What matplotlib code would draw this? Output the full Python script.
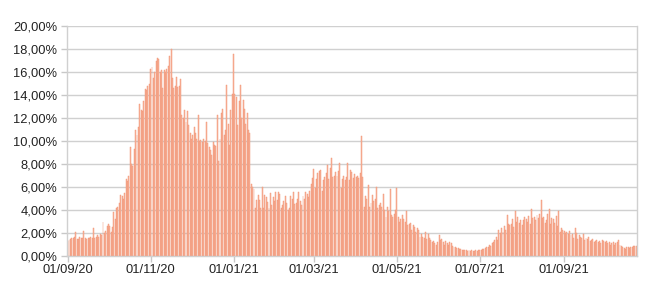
import matplotlib
matplotlib.use("Agg")
import matplotlib.pyplot as plt
import matplotlib.dates as mdates
from matplotlib.ticker import FuncFormatter
import pandas as pd

# daily positivity rate (%), month by month
sep20 = [1.3, 1.4, 1.5, 1.6, 1.6, 1.7, 2.1, 1.5, 1.5, 1.7, 1.6, 1.6, 2.2, 1.6, 1.5,
         1.6, 1.6, 1.7, 1.6, 2.4, 1.6, 1.7, 1.8, 1.7, 1.9, 1.8, 3.0, 2.0, 2.2, 2.6]
oct20 = [2.8, 2.6, 2.1, 2.5, 3.8, 3.2, 4.2, 4.3, 4.6, 5.3, 5.2, 5.0, 5.5, 6.7, 6.5,
         7.0, 9.5, 8.0, 7.8, 9.3, 11.0, 10.5, 11.2, 13.2, 12.7, 12.6, 13.5, 14.5, 14.4, 14.8, 15.0]
nov20 = [16.3, 16.4, 15.5, 16.0, 17.0, 17.2, 17.1, 16.0, 16.2, 14.6, 16.2, 16.0, 16.3, 16.5, 17.4,
         18.0, 15.5, 14.6, 14.8, 15.6, 14.7, 14.8, 15.4, 12.3, 12.0, 12.7, 11.7, 12.6, 11.4, 10.7]
dec20 = [10.2, 10.5, 11.2, 10.7, 10.2, 12.3, 10.0, 10.1, 9.9, 10.2, 10.0, 11.7, 9.8, 9.5, 9.2,
         8.8, 9.9, 9.7, 9.6, 12.3, 8.3, 10.2, 12.4, 12.8, 10.5, 11.0, 14.9, 11.5, 9.7, 12.7, 14.1]
jan21 = [17.6, 14.1, 13.8, 11.4, 13.5, 14.9, 12.0, 13.6, 12.8, 11.5, 12.4, 11.0, 10.7, 6.3, 6.0,
         5.8, 4.2, 4.9, 5.3, 4.9, 4.2, 6.0, 4.2, 5.3, 5.1, 4.7, 4.2, 5.5, 4.4, 5.1, 4.8]
feb21 = [5.6, 4.9, 5.6, 5.4, 4.2, 4.4, 4.8, 5.2, 4.6, 4.0, 4.2, 5.2, 5.0, 5.6,
         4.5, 4.6, 5.0, 5.6, 4.8, 4.4, 5.2, 5.0, 5.6, 5.4, 5.1, 5.7, 6.3, 6.8]
mar21 = [7.6, 5.9, 6.7, 7.2, 7.4, 7.5, 5.7, 6.6, 6.9, 7.2, 7.9, 6.7, 7.7, 8.5, 6.9,
         7.0, 7.3, 7.0, 7.4, 8.1, 5.9, 6.7, 7.0, 6.6, 6.9, 8.1, 6.6, 7.5, 7.3, 6.8, 7.1]
apr21 = [6.9, 7.0, 6.8, 7.2, 10.4, 6.9, 4.3, 5.2, 5.0, 6.2, 4.3, 4.6, 5.3, 4.8, 5.0,
         6.0, 4.2, 4.4, 4.6, 4.3, 5.4, 4.0, 3.4, 4.3, 3.9, 5.8, 3.6, 3.4, 3.7, 4.0]
may21 = [5.9, 3.4, 3.0, 3.2, 3.6, 3.2, 3.0, 3.9, 2.7, 2.8, 2.9, 2.3, 2.7, 2.5, 2.1,
         2.4, 2.3, 1.7, 1.9, 1.7, 1.6, 2.1, 1.5, 1.9, 1.6, 1.4, 1.2, 1.3, 1.1, 1.0, 1.2]
jun21 = [1.8, 1.4, 1.5, 1.2, 1.0, 1.3, 1.1, 1.0, 1.2, 1.1, 0.9, 0.8, 0.8, 0.7, 0.7,
         0.6, 0.6, 0.55, 0.5, 0.55, 0.5, 0.45, 0.5, 0.45, 0.5, 0.4, 0.45, 0.5, 0.45, 0.5]
jul21 = [0.5, 0.55, 0.6, 0.65, 0.7, 0.8, 0.75, 0.95, 0.9, 1.1, 1.25, 1.4, 1.7, 1.4, 2.3,
         2.0, 2.4, 2.1, 2.6, 2.3, 3.6, 2.8, 2.7, 2.8, 3.2, 2.5, 3.9, 3.0, 3.4, 2.9, 3.1]
aug21 = [2.7, 3.1, 3.4, 3.2, 3.0, 3.5, 2.8, 4.1, 3.3, 3.4, 3.1, 3.6, 3.3, 3.7, 4.9,
         3.3, 3.4, 2.9, 3.1, 3.7, 4.1, 2.8, 3.3, 3.2, 2.9, 3.5, 2.6, 3.9, 2.1, 2.4, 2.3]
sep21 = [2.2, 2.0, 2.1, 1.9, 2.2, 1.8, 1.9, 1.6, 2.4, 2.0, 1.5, 1.8, 1.7, 1.6, 1.9,
         1.4, 1.6, 1.5, 1.7, 1.3, 1.4, 1.5, 1.2, 1.3, 1.4, 1.2, 1.3, 1.1, 1.4, 1.3]
oct21 = [1.2, 1.3, 1.1, 1.2, 1.0, 1.1, 1.2, 1.0, 1.1, 1.2, 1.4, 1.0, 0.9, 0.8, 0.7,
         0.6, 0.75, 0.8, 0.7, 0.75, 0.8, 0.9, 0.85, 0.9]

tick_labels = ["01/09/20", "01/11/20", "01/01/21", "01/03/21", "01/05/21", "01/07/21", "01/09/21"]
yticks = [0, 2, 4, 6, 8, 10, 12, 14, 16, 18, 20]

values = (sep20 + oct20 + nov20 + dec20 + jan21 + feb21 + mar21 + apr21
          + may21 + jun21 + jul21 + aug21 + sep21 + oct21)
dates = pd.date_range("2020-09-01", periods=len(values), freq="D")

fig = plt.figure(figsize=(6.5, 2.93), dpi=100)
ax = fig.add_axes([0.103, 0.126, 0.877, 0.785])

ax.bar(dates, values, width=0.7, color="#f9bba3", edgecolor="#f08d6d",
       linewidth=0.3, zorder=2)

ax.set_ylim(0, 20)
ax.set_yticks(yticks)
ax.yaxis.set_major_formatter(FuncFormatter(lambda v, p: f"{v:.2f}%".replace(".", ",")))
ax.grid(axis="y", color="#d0d0d0", linewidth=1.0, zorder=0)

ax.set_xlim(dates[0] - pd.Timedelta(hours=12), dates[-1] + pd.Timedelta(hours=12))
ax.set_xticks(pd.to_datetime(tick_labels, format="%d/%m/%y"))
ax.xaxis.set_major_formatter(mdates.DateFormatter("%d/%m/%y"))

for s in ["left", "bottom", "right", "top"]:
    ax.spines[s].set_color("#d0d0d0")
    ax.spines[s].set_linewidth(1.0)
ax.spines["top"].set_visible(False)

ax.tick_params(axis="both", colors="#c8c8c8", length=4, width=1.0,
               labelcolor="#222222", labelsize=9.3)
ax.tick_params(axis="x", pad=2)
ax.tick_params(axis="y", pad=3)

for lab in ax.get_xticklabels() + ax.get_yticklabels():
    lab.set_fontfamily("Liberation Sans")

fig.savefig("out.png", dpi=100, facecolor="white")
